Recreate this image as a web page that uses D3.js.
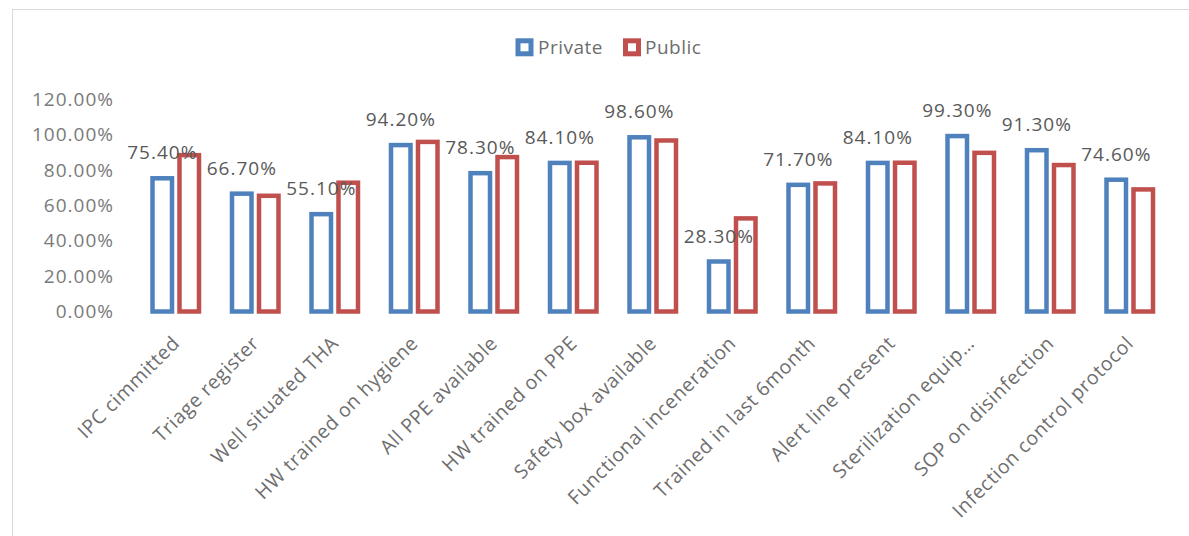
<!DOCTYPE html>
<html>
<head>
<meta charset="utf-8">
<script src="https://cdn.jsdelivr.net/npm/d3@7"></script>
<style>
  html, body { margin: 0; padding: 0; background: #fff; }
  svg { display: block; font-family: "Open Sans", "Liberation Sans", sans-serif; }
</style>
</head>
<body>
<svg id="chart" width="1189" height="536"></svg>
<script>
// Infection prevention indicators, private vs public facilities
const categories = [
  "IPC cimmitted", "Triage register", "Well situated THA", "HW trained on hygiene",
  "All PPE available", "HW trained on PPE", "Safety box available",
  "Functional inceneration", "Trained in last 6month", "Alert line present",
  "Sterilization equip\u2026", "SOP on disinfection", "Infection control protocol"
];
const seriesNames = ["Private", "Public"];
const privateValues = [75.4, 66.7, 55.1, 94.2, 78.3, 84.1, 98.6, 28.3, 71.7, 84.1, 99.3, 91.3, 74.6];
const publicValues  = [88.5, 65.5, 72.9, 96.0, 87.4, 84.2, 96.8, 52.7, 72.5, 84.2, 89.8, 82.9, 69.1];
const yTicks = [0, 20, 40, 60, 80, 100, 120];
const colors = { Private: "#4F81BD", Public: "#C0504D" };

const svg = d3.select("#chart");

// outer chart frame
svg.append("rect")
  .attr("x", 12.5).attr("y", 9.5)
  .attr("width", 1200).attr("height", 560)
  .attr("fill", "none").attr("stroke", "#d9d9d9").attr("stroke-width", 1);

const x = d3.scaleBand().domain(categories).range([136, 1169.5]).padding(0);
const xInner = d3.scaleBand().domain(seriesNames)
  .range([(x.bandwidth() - 51) / 2, (x.bandwidth() + 51) / 2])
  .paddingInner(0.111);
const y = d3.scaleLinear().domain([0, 120]).range([311.5, 99.5]);

const fmt = v => v.toFixed(2) + "%";
const sw = 4.5;

// y axis labels (no axis line, no gridlines)
const yAxis = svg.append("g")
  .attr("transform", "translate(114,0)")
  .call(d3.axisLeft(y).tickValues(yTicks).tickFormat(fmt).tickSize(0).tickPadding(0));
yAxis.select(".domain").remove();
yAxis.selectAll("text")
  .attr("fill", "#7a7a7a")
  .style("font-size", "19px")
  .style("letter-spacing", "1px")
  .style("font-family", "'Open Sans', sans-serif");

// bars
const rows = categories.map((c, i) => ({ cat: c, Private: privateValues[i], Public: publicValues[i] }));
const groups = svg.append("g").selectAll("g").data(rows).join("g")
  .attr("transform", d => `translate(${x(d.cat)},0)`);

groups.selectAll("rect").data(d => seriesNames.map(s => ({ s, v: d[s] }))).join("rect")
  .attr("x", d => xInner(d.s) + sw / 2)
  .attr("width", xInner.bandwidth() - sw)
  .attr("y", d => y(d.v))
  .attr("height", d => y(0) - y(d.v))
  .attr("fill", "#fff")
  .attr("stroke", d => colors[d.s])
  .attr("stroke-width", sw);

// data labels for the private series
groups.append("text")
  .attr("x", xInner("Private") + xInner.bandwidth() / 2)
  .attr("y", d => y(d.Private) - 19)
  .attr("text-anchor", "middle")
  .attr("fill", "#595959")
  .style("font-size", "19px")
  .style("letter-spacing", "1px")
  .text(d => fmt(d.Private));

// x axis category labels, rotated
const xAxis = svg.append("g")
  .attr("transform", `translate(0,${y(0)})`)
  .call(d3.axisBottom(x).tickSize(0).tickPadding(0));
xAxis.select(".domain").remove();
xAxis.selectAll("text")
  .attr("fill", "#6e6e6e")
  .style("font-size", "19.5px")
  .style("letter-spacing", "0.6px")
  .style("font-family", "'Open Sans', sans-serif")
  .attr("text-anchor", "end")
  .attr("dy", null)
  .attr("y", 0)
  .attr("transform", "translate(5,33) rotate(-45)");

// legend
const legend = svg.append("g");
const legendItems = [{ s: "Private", sx: 524.5, tx: 538 }, { s: "Public", sx: 632, tx: 645 }];
legend.selectAll("rect").data(legendItems).join("rect")
  .attr("x", d => d.sx - 6.5).attr("y", 47.3 - 6.5)
  .attr("width", 13).attr("height", 13)
  .attr("fill", "#fff")
  .attr("stroke", d => colors[d.s])
  .attr("stroke-width", 5);
legend.selectAll("text").data(legendItems).join("text")
  .attr("x", d => d.tx).attr("y", 54)
  .attr("fill", "#6e6e6e")
  .style("font-size", "19px")
  .style("letter-spacing", "0.5px")
  .text(d => d.s);
</script>
</body>
</html>
